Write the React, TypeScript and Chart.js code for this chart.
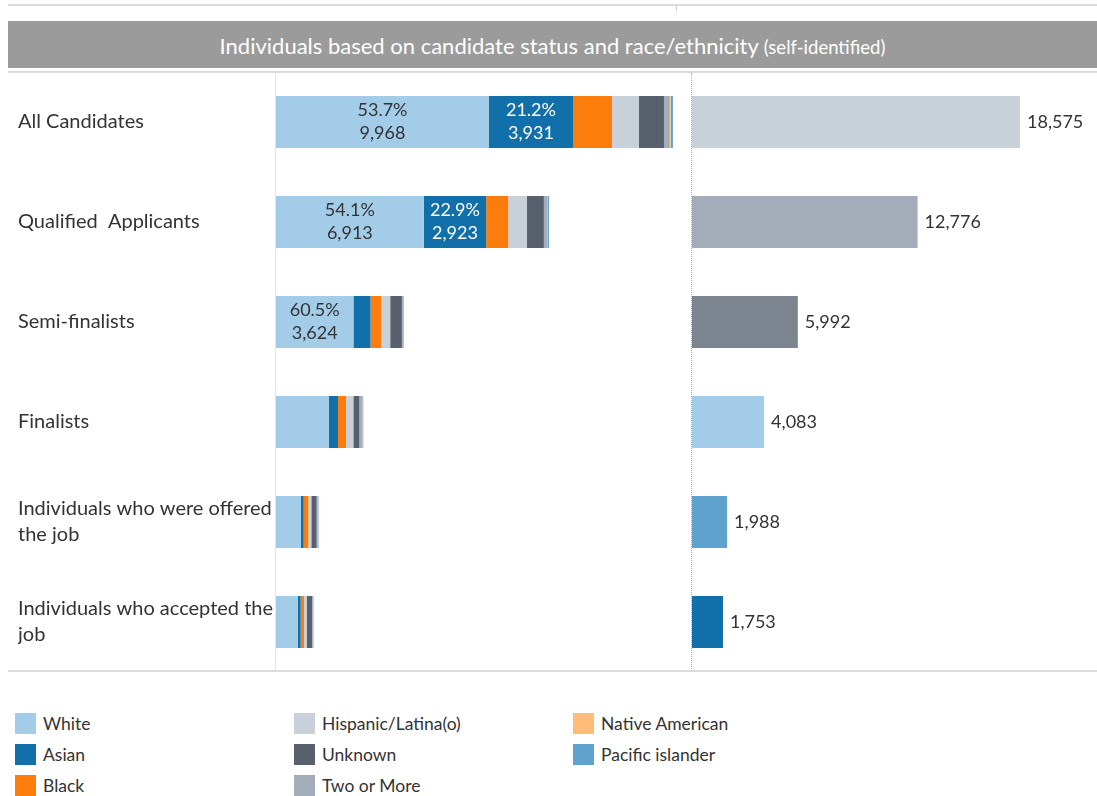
import React, { useEffect, useRef } from "react";
import { Chart, registerables } from "chart.js";

Chart.register(...registerables);

const FONT = "Lato, 'Open Sans', sans-serif";

const categories: string[][] = [
  ["All Candidates"],
  ["Qualified  Applicants"],
  ["Semi-finalists"],
  ["Finalists"],
  ["Individuals who were offered", "the job"],
  ["Individuals who accepted the", "job"],
];

const races = [
  "White",
  "Asian",
  "Black",
  "Hispanic/Latina(o)",
  "Unknown",
  "Two or More",
  "Native American",
  "Pacific islander",
];
const raceColors = ["#a3cce9", "#1170aa", "#fc7d0b", "#c8d0d9", "#57606c", "#a3acb9", "#ffbc79", "#5fa2ce"];

const white = [9968, 6913, 3624, 2466, 1170, 1014];
const asian = [3931, 2923, 800, 437, 125, 140];
const black = [1825, 1030, 500, 374, 218, 156];
const hispanic = [1263, 875, 420, 343, 140, 125];
const unknown = [1170, 795, 547, 281, 250, 250];
const twoOrMore = [271, 170, 50, 120, 50, 40];
const nativeAmerican = [40, 20, 20, 20, 10, 8];
const pacificIslander = [107, 50, 31, 42, 25, 20];

const totals = [18575, 12776, 5992, 4083, 1988, 1753];
const totalColors = ["#c8d0d9", "#a3acb9", "#7b848f", "#a3cce9", "#5fa2ce", "#1170aa"];

const raceSeries = [white, asian, black, hispanic, unknown, twoOrMore, nativeAmerican, pacificIslander];

// legend order (column-major in 3 columns)
const legendColumns: number[][] = [
  [0, 1, 2],
  [3, 4, 5],
  [6, 7],
];

const fmt = (n: number) => n.toLocaleString("en-US");

function LeftChart() {
  const ref = useRef<HTMLCanvasElement>(null);
  useEffect(() => {
    const labelPlugin = {
      id: "segLabels",
      afterDatasetsDraw(chart: any) {
        const ctx = chart.ctx;
        [0, 1].forEach((di) => {
          const meta = chart.getDatasetMeta(di);
          meta.data.forEach((el: any, i: number) => {
            const w = el.x - el.base;
            if (w < 55) return;
            const v = raceSeries[di][i];
            const pct = ((v / totals[i]) * 100).toFixed(1) + "%";
            const cx = (el.x + el.base) / 2;
            ctx.save();
            ctx.font = `18px ${FONT}`;
            ctx.fillStyle = di === 0 ? "#333333" : "#ffffff";
            ctx.textAlign = "center";
            ctx.textBaseline = "middle";
            ctx.fillText(pct, cx, el.y - 11.5);
            ctx.fillText(fmt(v), cx, el.y + 11.5);
            ctx.restore();
          });
        });
      },
    };
    const chart = new Chart(ref.current!, {
      type: "bar",
      data: {
        labels: categories,
        datasets: races.map((r, i) => ({
          label: r,
          data: raceSeries[i],
          backgroundColor: raceColors[i],
          borderWidth: 0,
          barPercentage: 1,
          categoryPercentage: 0.52,
        })),
      },
      options: {
        indexAxis: "y",
        animation: false,
        responsive: false,
        devicePixelRatio: 1,
        layout: { padding: { left: 10, right: 0, top: 0, bottom: 0 } },
        plugins: { legend: { display: false }, tooltip: { enabled: false } },
        scales: {
          x: { stacked: true, min: 0, max: 18720, display: false },
          y: {
            stacked: true,
            grid: { display: false },
            border: { display: false },
            afterFit: (s: any) => {
              s.width = 258;
              s.paddingTop = 0;
              s.paddingBottom = 0;
            },
            ticks: {
              crossAlign: "far",
              padding: 0,
              color: "#333333",
              font: { family: FONT, size: 20, lineHeight: 1.3 },
            },
          },
        },
      },
      plugins: [labelPlugin],
    } as any);
    return () => chart.destroy();
  }, []);
  return <canvas ref={ref} width={668} height={600} style={{ position: "absolute", left: 8, top: 72 }} />;
}

function RightChart() {
  const ref = useRef<HTMLCanvasElement>(null);
  useEffect(() => {
    const labelPlugin = {
      id: "totLabels",
      afterDatasetsDraw(chart: any) {
        const ctx = chart.ctx;
        const meta = chart.getDatasetMeta(0);
        meta.data.forEach((el: any, i: number) => {
          ctx.save();
          ctx.font = `18px ${FONT}`;
          ctx.fillStyle = "#333333";
          ctx.textAlign = "left";
          ctx.textBaseline = "middle";
          ctx.fillText(fmt(totals[i]), el.x + 7, el.y);
          ctx.restore();
        });
      },
    };
    const chart = new Chart(ref.current!, {
      type: "bar",
      data: {
        labels: categories,
        datasets: [
          {
            label: "Total",
            data: totals,
            backgroundColor: totalColors,
            borderWidth: 0,
            barPercentage: 1,
            categoryPercentage: 0.52,
          },
        ],
      },
      options: {
        indexAxis: "y",
        animation: false,
        responsive: false,
        devicePixelRatio: 1,
        layout: { padding: { left: 16, right: 0, top: 0, bottom: 0 } },
        plugins: { legend: { display: false }, tooltip: { enabled: false } },
        scales: {
          x: { min: 0, max: 22935, display: false },
          y: { display: false },
        },
      },
      plugins: [labelPlugin],
    } as any);
    return () => chart.destroy();
  }, []);
  return <canvas ref={ref} width={421} height={600} style={{ position: "absolute", left: 676, top: 72 }} />;
}

export default function App() {
  const line = (left: number, top: number, width: number, height: number, extra: any = {}) => ({
    position: "absolute" as const,
    left,
    top,
    width,
    height,
    background: "#dcdcdc",
    ...extra,
  });
  return (
    <div
      style={{
        position: "absolute",
        left: 0,
        top: 0,
        width: 1097,
        height: 796,
        overflow: "hidden",
        background: "#ffffff",
        fontFamily: FONT,
      }}
    >
      <div style={line(8, 4, 1089, 2)} />
      <div style={line(676, 6, 1, 5, { background: "#d0d0d0" })} />
      <div
        style={{
          position: "absolute",
          left: 8,
          top: 21,
          width: 1089,
          height: 47,
          background: "#9b9b9b",
          color: "#ffffff",
          display: "flex",
          alignItems: "baseline",
          justifyContent: "center",
          paddingTop: 11,
          boxSizing: "border-box",
          fontSize: 22,
          whiteSpace: "nowrap",
        }}
      >
        Individuals based on candidate status and race/ethnicity
        <span style={{ fontSize: 18.5, marginLeft: 5 }}>(self-identified)</span>
      </div>
      <div style={line(8, 71, 1089, 2)} />
      <div style={line(275, 73, 1, 598, { background: "#e6e6e6" })} />
      <div
        style={{
          position: "absolute",
          left: 691,
          top: 73,
          width: 0,
          height: 598,
          borderLeft: "1px dotted #b0b0b0",
        }}
      />
      <div style={line(8, 670, 1089, 2)} />
      <LeftChart />
      <RightChart />
      {legendColumns.map((col, ci) =>
        col.map((ri, k) => (
          <div
            key={ri}
            style={{
              position: "absolute",
              left: [15, 294, 573][ci],
              top: 713 + k * 31,
              height: 21,
              display: "flex",
              alignItems: "center",
              color: "#333333",
              fontSize: 17.5,
              whiteSpace: "nowrap",
            }}
          >
            <div style={{ width: 21, height: 21, background: raceColors[ri], marginRight: 7, flex: "none" }} />
            {races[ri]}
          </div>
        ))
      )}
    </div>
  );
}
